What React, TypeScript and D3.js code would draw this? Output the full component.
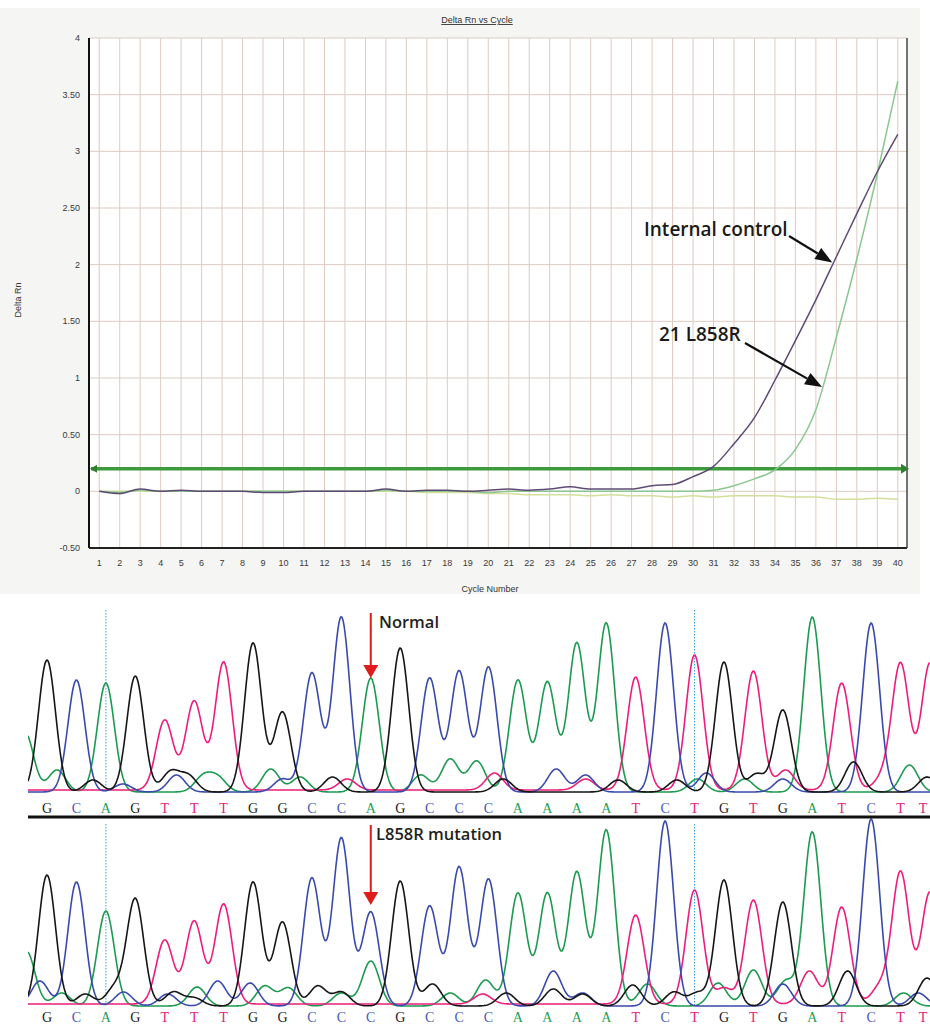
import React, { useEffect, useRef } from "react";
import * as d3 from "d3";

// ---- amplification plot data ----
const cycles = [1, 2, 3, 4, 5, 6, 7, 8, 9, 10, 11, 12, 13, 14, 15, 16, 17, 18, 19, 20,
  21, 22, 23, 24, 25, 26, 27, 28, 29, 30, 31, 32, 33, 34, 35, 36, 37, 38, 39, 40];

const internalControl = [0.0, -0.02, 0.02, 0.0, 0.01, 0.0, 0.0, 0.0, -0.01, -0.01,
  0.0, 0.0, 0.0, 0.0, 0.02, 0.0, 0.01, 0.01, 0.0, 0.01,
  0.02, 0.01, 0.02, 0.04, 0.02, 0.02, 0.02, 0.05, 0.06, 0.13,
  0.22, 0.42, 0.65, 0.98, 1.33, 1.69, 2.07, 2.45, 2.82, 3.15];

const l858r = [0.0, -0.01, 0.01, 0.0, 0.0, 0.0, 0.0, 0.0, 0.0, 0.0,
  0.0, 0.0, 0.0, 0.0, 0.01, 0.0, 0.0, 0.0, 0.0, -0.01,
  0.0, 0.0, 0.0, 0.0, 0.0, 0.0, 0.0, 0.0, 0.0, 0.0,
  0.01, 0.05, 0.11, 0.19, 0.37, 0.72, 1.36, 2.05, 2.8, 3.62];

const negativeControl = [0.0, 0.0, 0.0, 0.0, 0.0, 0.0, 0.0, 0.0, 0.0, 0.0,
  0.0, 0.0, 0.0, 0.0, 0.0, 0.0, -0.01, -0.01, -0.01, -0.02,
  -0.02, -0.03, -0.03, -0.03, -0.04, -0.03, -0.04, -0.04, -0.05, -0.04,
  -0.05, -0.04, -0.04, -0.04, -0.05, -0.05, -0.07, -0.07, -0.06, -0.07];

const yTicks = [-0.5, 0, 0.5, 1, 1.5, 2, 2.5, 3, 3.5, 4];
const yTickLabels = ["-0.50", "0", "0.50", "1", "1.50", "2", "2.50", "3", "3.50", "4"];
const threshold = 0.2;

// ---- sequencing data ----
const seqNormal = "GCAGTTTGGCCAGCCCAAAATCTGTGATCTT".split("");
const seqMutant = "GCAGTTTGGCCCGCCCAAAATCTGTGATCTT".split("");

const peaksNormal = [132, 112, 109, 116, 70, 89, 128, 149, 80, 119, 175, 114, 144, 114, 121,
  125, 112, 110, 149, 169, 113, 169, 135, 130, 119, 82, 175, 107, 169, 126, 127];
const peaksMutant = [131, 124, 95, 107, 64, 83, 100, 124, 84, 128, 168, 94, 125, 100, 139,
  127, 113, 113, 134, 176, 89, 185, 114, 126, 104, 104, 174, 97, 187, 132, 112];

// background (secondary) peaks: [base position, height]
const bgNormalG = [[1.56, 12], [4.2, 20], [4.8, 16], [9.7, 15], [15.5, 13], [19.4, 12], [21.4, 12], [24.1, 18], [27.4, 30], [29.9, 15]];
const bgNormalA = [[-0.75, 60], [0.34, 22], [5.3, 15], [5.8, 14], [7.6, 23], [8.6, 15], [12.7, 17], [13.7, 33], [14.6, 31], [22.1, 13], [23.7, 13], [29.3, 27]];
const bgNormalC = [[2.58, 8], [4.4, 17], [8.0, 13], [17.3, 23], [18.3, 17], [22.4, 19], [25.0, 13]];
const bgNormalT = [[10.2, 11], [15.2, 17], [18.3, 11], [25.1, 20], [28.4, 12]];

const bgMutantG = [[1.3, 12], [2.3, 18], [4.3, 14], [5.0, 8], [9.2, 20], [10.0, 14], [13.1, 22], [15.6, 13], [17.2, 17], [18.2, 12], [19.9, 21], [21.3, 14], [22.1, 13], [27.2, 35], [29.9, 28]];
const bgMutantA = [[-0.7, 55], [0.5, 13], [5.1, 19], [7.4, 20], [8.2, 18], [10.0, 13], [11, 45], [13.7, 13], [14.9, 26], [20.4, 22], [22.8, 23], [24.0, 36], [25.1, 25], [29.1, 13]];
const bgMutantC = [[-0.24, 25], [2.6, 14], [4.1, 12], [5.8, 25], [6.9, 23], [17.2, 35], [18.2, 13], [25.0, 22], [29.6, 13]];
const bgMutantT = [[14.8, 10], [23.0, 16], [25.9, 33], [28.3, 17]];

const baseColors = { G: "#161616", C: "#3a4aac", A: "#1c9a50", T: "#ec1e79" };
const letterColors = { G: "#222222", C: "#4a5ab8", A: "#22a055", T: "#e8207a" };

function App() {
  const ref = useRef(null);

  useEffect(() => {
    const svg = d3.select(ref.current);
    svg.selectAll("*").remove();

    // ================= amplification plot =================
    const left = 89, right = 907, top = 38, bottom = 548;
    const xScale = d3.scaleLinear().domain([0.5, 40.45]).range([left, right]);
    const yScale = d3.scaleLinear().domain([-0.5, 4]).range([bottom, top]);

    svg.append("rect").attr("x", 0).attr("y", 8).attr("width", 920).attr("height", 586).attr("fill", "#f5f5f4");
    svg.append("rect").attr("x", left).attr("y", top).attr("width", right - left).attr("height", bottom - top).attr("fill", "#ffffff");

    // grid
    svg.append("g")
      .selectAll("line")
      .data(cycles)
      .join("line")
      .attr("x1", (d) => xScale(d))
      .attr("x2", (d) => xScale(d))
      .attr("y1", top)
      .attr("y2", bottom)
      .attr("stroke", "#dccbc3")
      .attr("stroke-width", 1);
    svg.append("g")
      .selectAll("line")
      .data(yTicks.slice(1))
      .join("line")
      .attr("x1", left)
      .attr("x2", right)
      .attr("y1", (d) => yScale(d))
      .attr("y2", (d) => yScale(d))
      .attr("stroke", "#dccbc3")
      .attr("stroke-width", 1);

    // axes frame
    svg.append("line").attr("x1", left).attr("x2", left).attr("y1", top).attr("y2", bottom).attr("stroke", "#111").attr("stroke-width", 2);
    svg.append("line").attr("x1", left).attr("x2", right).attr("y1", bottom).attr("y2", bottom).attr("stroke", "#222").attr("stroke-width", 2);
    svg.append("line").attr("x1", right).attr("x2", right).attr("y1", top).attr("y2", bottom).attr("stroke", "#444").attr("stroke-width", 1.5);

    // tick labels
    svg.append("g")
      .selectAll("text")
      .data(yTicks)
      .join("text")
      .attr("x", 80)
      .attr("y", (d) => yScale(d) + 3)
      .attr("text-anchor", "end")
      .attr("font-family", "Liberation Sans, Arial, sans-serif")
      .attr("font-size", 9)
      .attr("fill", "#3a3a3a")
      .text((d, i) => yTickLabels[i]);
    svg.append("g")
      .selectAll("text")
      .data(cycles)
      .join("text")
      .attr("x", (d) => xScale(d))
      .attr("y", 566)
      .attr("text-anchor", "middle")
      .attr("font-family", "Liberation Sans, Arial, sans-serif")
      .attr("font-size", 9)
      .attr("fill", "#3a3a3a")
      .text((d) => d);

    svg.append("text")
      .attr("x", 477).attr("y", 23)
      .attr("text-anchor", "middle")
      .attr("font-family", "Liberation Sans, Arial, sans-serif")
      .attr("font-size", 9)
      .attr("fill", "#333")
      .attr("text-decoration", "underline")
      .text("Delta Rn vs Cycle");
    svg.append("text")
      .attr("x", 490).attr("y", 592)
      .attr("text-anchor", "middle")
      .attr("font-family", "Liberation Sans, Arial, sans-serif")
      .attr("font-size", 9)
      .attr("fill", "#333")
      .text("Cycle Number");
    svg.append("text")
      .attr("transform", "translate(21,300) rotate(-90)")
      .attr("text-anchor", "middle")
      .attr("font-family", "Liberation Sans, Arial, sans-serif")
      .attr("font-size", 9)
      .attr("fill", "#333")
      .text("Delta Rn");

    // threshold
    const ty = yScale(threshold);
    svg.append("line").attr("x1", left + 2).attr("x2", right - 2).attr("y1", ty).attr("y2", ty).attr("stroke", "#3d9a3d").attr("stroke-width", 3.5);
    svg.append("path").attr("d", `M${right + 2},${ty} L${right - 6},${ty - 5} L${right - 6},${ty + 5} Z`).attr("fill", "#2f7f2f");
    svg.append("path").attr("d", `M${left + 1},${ty} L${left + 8},${ty - 4} L${left + 8},${ty + 4} Z`).attr("fill", "#2f7f2f");

    const line = d3.line().x((d, i) => xScale(cycles[i])).y((d) => yScale(d)).curve(d3.curveMonotoneX);
    const series = [
      { values: negativeControl, color: "#d2e09a" },
      { values: l858r, color: "#8cc690" },
      { values: internalControl, color: "#5e4b75" },
    ];
    svg.append("g")
      .selectAll("path")
      .data(series)
      .join("path")
      .attr("d", (d) => line(d.values))
      .attr("fill", "none")
      .attr("stroke", (d) => d.color)
      .attr("stroke-width", 1.5);

    // annotations with filled arrow heads
    const labelFont = "Open Sans, Noto Sans, sans-serif";
    const arrow = (x1, y1, x2, y2) => {
      const a = Math.atan2(y2 - y1, x2 - x1);
      const len = 17, half = 6.5;
      const bxp = x2 - len * Math.cos(a), byp = y2 - len * Math.sin(a);
      svg.append("line").attr("x1", x1).attr("y1", y1).attr("x2", bxp).attr("y2", byp)
        .attr("stroke", "#111").attr("stroke-width", 2.2);
      svg.append("path")
        .attr("d", `M${x2},${y2} L${bxp + half * Math.sin(a)},${byp - half * Math.cos(a)} L${bxp - half * Math.sin(a)},${byp + half * Math.cos(a)} Z`)
        .attr("fill", "#111");
    };
    svg.append("text").attr("x", 644).attr("y", 236).attr("font-family", labelFont).attr("font-weight", 600)
      .attr("font-size", 19).attr("fill", "#1a1a1a").text("Internal control");
    arrow(789, 236, xScale(36.8), yScale(2.02));
    svg.append("text").attr("x", 659).attr("y", 341).attr("font-family", labelFont).attr("font-weight", 600)
      .attr("font-size", 19).attr("fill", "#1a1a1a").text("21 L858R");
    arrow(745, 343, xScale(36.3), yScale(0.92));

    // ================= chromatograms =================
    const bx = d3.scaleLinear().domain([0, 30]).range([47, 930]);
    const sigma = 8.5 / 29.43;
    const clipId = "seqclip";
    svg.append("clipPath").attr("id", clipId).append("rect").attr("x", 28).attr("y", 600).attr("width", 902).attr("height", 425);

    const panels = [
      { seq: seqNormal, peaks: peaksNormal, bg: { G: bgNormalG, A: bgNormalA, C: bgNormalC, T: bgNormalT }, base: 793, letterY: 813,
        label: "Normal", arrowTop: 613, arrowTip: 678, labelY: 628, labelX: 379 },
      { seq: seqMutant, peaks: peaksMutant, bg: { G: bgMutantG, A: bgMutantA, C: bgMutantC, T: bgMutantT }, base: 1007, letterY: 1022,
        label: "L858R mutation", arrowTop: 825, arrowTip: 905, labelY: 840, labelX: 376 },
    ];

    panels.forEach((p) => {
      const y = d3.scaleLinear().domain([0, 180]).range([p.base, p.base - 180]);
      const g = svg.append("g").attr("clip-path", `url(#${clipId})`);

      // dotted cursor lines
      [2, 22].forEach((i) => {
        g.append("line").attr("x1", bx(i)).attr("x2", bx(i)).attr("y1", p.base - 183).attr("y2", p.base)
          .attr("stroke", "#2aa8e8").attr("stroke-width", 1).attr("stroke-dasharray", "1.5,1.5");
      });

      ["A", "T", "C", "G"].forEach((b) => {
        const peaks = [];
        p.seq.forEach((s, i) => { if (s === b) peaks.push([i, p.peaks[i]]); });
        p.bg[b].forEach((d) => peaks.push(d));
        const offset = b === "T" ? 3 : 1;
        const xs = d3.range(28, 931, 1);
        const pts = xs.map((px) => {
          const t = bx.invert(px);
          let v = offset;
          peaks.forEach(([c, h]) => { v += h * Math.exp(-((t - c) ** 2) / (2 * sigma * sigma)); });
          return [px, y(v)];
        });
        g.append("path")
          .attr("d", d3.line()(pts))
          .attr("fill", "none")
          .attr("stroke", baseColors[b])
          .attr("stroke-width", 1.6);
      });

      svg.append("g")
        .selectAll("text")
        .data(p.seq)
        .join("text")
        .attr("x", (d, i) => Math.min(bx(i), 923))
        .attr("y", p.letterY)
        .attr("text-anchor", "middle")
        .attr("font-family", "Liberation Serif, DejaVu Serif, serif")
        .attr("font-size", 14)
        .attr("fill", (d) => letterColors[d])
        .text((d) => d);

      const ax = bx(11);
      svg.append("line").attr("x1", ax).attr("x2", ax).attr("y1", p.arrowTop).attr("y2", p.arrowTip - 12)
        .attr("stroke", "#e01b1b").attr("stroke-width", 2);
      svg.append("path").attr("d", `M${ax - 7.5},${p.arrowTip - 13} L${ax + 7.5},${p.arrowTip - 13} L${ax},${p.arrowTip} Z`).attr("fill", "#e01b1b");
      svg.append("text").attr("x", p.labelX).attr("y", p.labelY).attr("font-family", labelFont).attr("font-weight", 600)
        .attr("font-size", 16.5).attr("fill", "#231f20").text(p.label);
    });

    svg.append("line").attr("x1", 28).attr("x2", 930).attr("y1", 817).attr("y2", 817).attr("stroke", "#111").attr("stroke-width", 3);
  }, []);

  return (
    <div style={{ position: "absolute", left: 0, top: 0 }}>
      <svg ref={ref} width={930} height={1025} style={{ display: "block", background: "#ffffff" }} />
    </div>
  );
}

export default App;
